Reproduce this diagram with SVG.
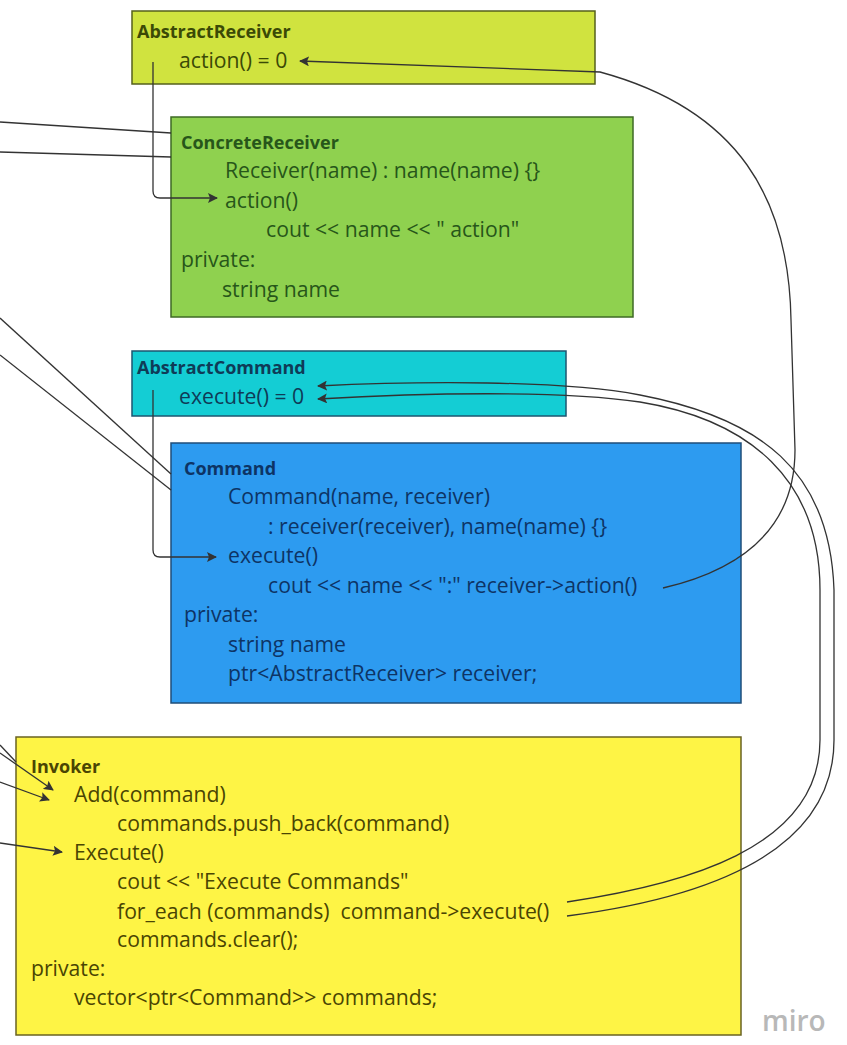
<svg xmlns="http://www.w3.org/2000/svg" width="847" height="1045" viewBox="0 0 847 1045">
<style>
  text { font-family: "Open Sans", "Noto Sans", "Liberation Sans", sans-serif; font-size: 21.2px; }
  .t { font-weight: bold; font-size: 18px; }
  .ar rect { fill: #d0e33f; stroke: #55601c; stroke-width: 1.5; }
  .ar text { fill: #3b4a06; }
  .cr rect { fill: #8fd14f; stroke: #3e6a24; stroke-width: 1.5; }
  .cr text { fill: #27561a; }
  .ac rect { fill: #14cdd4; stroke: #1c5670; stroke-width: 1.5; }
  .ac text { fill: #0f3b57; }
  .cm rect { fill: #2d9bf0; stroke: #1f4e79; stroke-width: 1.5; }
  .cm text { fill: #0d3465; }
  .iv rect { fill: #fef445; stroke: #6a6322; stroke-width: 1.5; }
  .iv text { fill: #4a4503; }
  .c path { fill: none; stroke: #333; stroke-width: 1.3; }
  .c .a { marker-end: url(#ah); }
</style>
<defs>
  <marker id="ah" viewBox="0 0 10 10" refX="9" refY="5" markerWidth="10" markerHeight="10" markerUnits="userSpaceOnUse" orient="auto">
    <path d="M0,0 L10,5 L0,10 L2,5 Z" fill="#333"/>
  </marker>
</defs>
<rect width="847" height="1045" fill="#ffffff"/>

<g id="AbstractReceiver" class="ar">
  <rect x="132" y="11" width="463" height="73"/>
  <text class="t" x="137" y="38">AbstractReceiver</text>
  <text x="179" y="68">action() = 0</text>
</g>
<g id="ConcreteReceiver" class="cr">
  <rect x="171" y="117" width="462" height="200"/>
  <text class="t" x="181" y="149">ConcreteReceiver</text>
  <text x="225" y="178">Receiver(name) : name(name) {}</text>
  <text x="225" y="208">action()</text>
  <text x="266" y="237">cout &lt;&lt; name &lt;&lt; " action"</text>
  <text x="181" y="267">private:</text>
  <text x="222" y="297">string name</text>
</g>
<g id="AbstractCommand" class="ac">
  <rect x="132" y="351" width="434" height="65"/>
  <text class="t" x="137" y="374">AbstractCommand</text>
  <text x="179" y="404">execute() = 0</text>
</g>
<g id="Command" class="cm">
  <rect x="171" y="443" width="570" height="260"/>
  <text class="t" x="184" y="475">Command</text>
  <text x="228" y="504">Command(name, receiver)</text>
  <text x="268" y="534">: receiver(receiver), name(name) {}</text>
  <text x="228" y="563">execute()</text>
  <text x="268" y="593">cout &lt;&lt; name &lt;&lt; ":" receiver-&gt;action()</text>
  <text x="184" y="622">private:</text>
  <text x="228" y="652">string name</text>
  <text x="228" y="681">ptr&lt;AbstractReceiver&gt; receiver;</text>
</g>
<g id="Invoker" class="iv">
  <rect x="16" y="737" width="725" height="298"/>
  <text class="t" x="31" y="773">Invoker</text>
  <text x="74" y="802">Add(command)</text>
  <text x="117" y="831">commands.push_back(command)</text>
  <text x="74" y="860">Execute()</text>
  <text x="117" y="889">cout &lt;&lt; "Execute Commands"</text>
  <text x="117" y="919" xml:space="preserve">for_each (commands)  command-&gt;execute()</text>
  <text x="117" y="947">commands.clear();</text>
  <text x="31" y="976">private:</text>
  <text x="74" y="1005">vector&lt;ptr&lt;Command&gt;&gt; commands;</text>
</g>

<g id="connectors" class="c">
  <path d="M0,122 L171,133"/>
  <path d="M0,152 L171,157"/>
  <path d="M0,318 L171,474"/>
  <path d="M0,355 L171,490"/>
  <path d="M0,745 L16,762"/>
  <path class="a" d="M0,753 L53,790"/>
  <path class="a" d="M0,782 L49,800"/>
  <path class="a" d="M0,843 L62,852"/>
  <path class="a" d="M153,62 L153,191 Q153,198 160,198 L217,198"/>
  <path class="a" d="M153,390 L153,550 Q153,557 160,557 L216,557"/>
  <path class="a" d="M663,588 C740,570 795,530 795,450 L791,320 C789,200 740,110 600,72 L300,61"/>
  <path class="a" d="M567,916 C690,900 834,860 834,740 L834,590 C830,470 760,418 640,395 C560,380 420,381 318,386"/>
  <path class="a" d="M567,902 C680,885 820,850 820,740 L820,590 C820,480 750,420 640,402 C560,390 420,393 318,399"/>
</g>

<text x="762" y="1031" style="font-family:'Open Sans','Liberation Sans',sans-serif;font-size:28px;font-weight:600;fill:#b8b8b8;">miro</text>
</svg>
